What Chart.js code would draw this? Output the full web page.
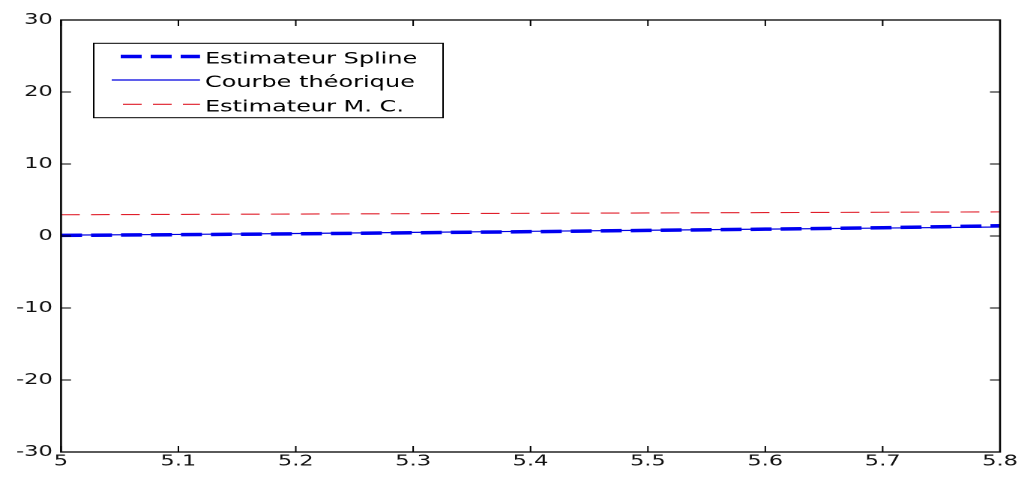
<!DOCTYPE html>
<html>
<head>
<meta charset="utf-8">
<script src="https://cdn.jsdelivr.net/npm/chart.js@4.4.1/dist/chart.umd.min.js"></script>
<style>
  html, body { margin: 0; padding: 0; background: #fff; overflow: hidden; }
  /* the reference is stretched sideways, so draw narrow and widen it */
  #wrap { width: 681px; height: 477px; transform: scaleX(1.4993); transform-origin: 0 0; }
</style>
</head>
<body>
<div id="wrap"><canvas id="chart"></canvas></div>
<script>
const xVals = [5.0, 5.1, 5.2, 5.3, 5.4, 5.5, 5.6, 5.7, 5.8];
const splineVals = [0.08, 0.18, 0.30, 0.45, 0.60, 0.78, 0.95, 1.15, 1.42];
const theoVals = [0.12, 0.22, 0.35, 0.50, 0.65, 0.80, 0.95, 1.10, 1.25];
const mcVals = [2.95, 3.00, 3.05, 3.10, 3.15, 3.20, 3.25, 3.30, 3.35];
const seriesNames = ['Estimateur Spline', 'Courbe théorique', 'Estimateur M. C.'];

const xTickVals = [5, 5.1, 5.2, 5.3, 5.4, 5.5, 5.6, 5.7, 5.8];
const xTickLabels = ['5', '5.1', '5.2', '5.3', '5.4', '5.5', '5.6', '5.7', '5.8'];
const yTickVals = [-30, -20, -10, 0, 10, 20, 30];
const yTickLabels = ['-30', '-20', '-10', '0', '10', '20', '30'];

const FONT = '"DejaVu Sans", Arial, sans-serif';
const pts = vals => xVals.map((x, i) => ({ x, y: vals[i] }));

// box, inward ticks on all four sides, then the boxed legend
const frame = {
  id: 'frame',
  afterDatasetsDraw(chart) {
    const { ctx, chartArea: a, scales } = chart;
    ctx.save();
    ctx.setLineDash([]);
    ctx.strokeStyle = '#000';
    ctx.lineWidth = 1.3;
    ctx.strokeRect(a.left, a.top, a.right - a.left, a.bottom - a.top);
    ctx.lineWidth = 1;
    ctx.beginPath();
    scales.x.ticks.forEach(t => {
      const px = scales.x.getPixelForValue(t.value);
      ctx.moveTo(px, a.bottom); ctx.lineTo(px, a.bottom - 6);
      ctx.moveTo(px, a.top); ctx.lineTo(px, a.top + 6);
    });
    scales.y.ticks.forEach(t => {
      const py = scales.y.getPixelForValue(t.value);
      ctx.moveTo(a.left, py); ctx.lineTo(a.left + 6.7, py);
      ctx.moveTo(a.right, py); ctx.lineTo(a.right - 6.7, py);
    });
    ctx.stroke();
    ctx.restore();
  },
  afterDraw(chart) {
    const ctx = chart.ctx;
    const box = { l: 62.5, r: 295.5, t: 43.3, b: 117.7 };
    const rows = [56.5, 80, 104.3];
    ctx.save();
    ctx.fillStyle = '#fff';
    ctx.fillRect(box.l, box.t, box.r - box.l, box.b - box.t);
    ctx.strokeStyle = '#000';
    ctx.lineWidth = 1;
    ctx.setLineDash([]);
    ctx.strokeRect(box.l, box.t, box.r - box.l, box.b - box.t);
    chart.data.datasets.forEach((ds, i) => {
      const y = rows[i];
      ctx.strokeStyle = ds.borderColor;
      ctx.lineWidth = ds.borderWidth;
      const dash = ds.borderDash || [];
      ctx.setLineDash(dash);
      ctx.lineDashOffset = dash.length ? dash[0] : 0;
      ctx.beginPath();
      ctx.moveTo(74.5, y);
      ctx.lineTo(133.4, y);
      ctx.stroke();
      ctx.setLineDash([]);
      ctx.fillStyle = '#000';
      ctx.font = '16px ' + FONT;
      ctx.textBaseline = 'alphabetic';
      ctx.textAlign = 'left';
      ctx.fillText(ds.label, 136.7, y + 7);
    });
    ctx.restore();
  }
};

const tickFont = { family: FONT, size: 15, lineHeight: 1 };

new Chart(document.getElementById('chart'), {
  type: 'line',
  data: {
    datasets: [
      { label: seriesNames[0], data: pts(splineVals), borderColor: '#0000f0', borderWidth: 3.5, borderDash: [14, 6] },
      { label: seriesNames[1], data: pts(theoVals), borderColor: '#0000e0', borderWidth: 1.2 },
      { label: seriesNames[2], data: pts(mcVals), borderColor: '#e01e2a', borderWidth: 1.1, borderDash: [12.5, 7.5] }
    ]
  },
  options: {
    animation: false,
    responsive: true,
    maintainAspectRatio: false,
    devicePixelRatio: 2,
    layout: { padding: { top: 20, right: 14, left: 0, bottom: 0 } },
    elements: { point: { radius: 0 }, line: { tension: 0 } },
    plugins: { legend: { display: false }, tooltip: { enabled: false } },
    scales: {
      x: {
        type: 'linear', min: 5, max: 5.8,
        grid: { display: false, drawTicks: false },
        border: { display: false },
        ticks: { font: tickFont, color: '#111', padding: 2, maxRotation: 0, autoSkip: false,
                 callback: (v, i) => xTickLabels[i] },
        afterBuildTicks: s => { s.ticks = xTickVals.map(v => ({ value: v })); },
        afterFit: s => { s.height = 25; }
      },
      y: {
        type: 'linear', min: -30, max: 30,
        grid: { display: false, drawTicks: false },
        border: { display: false },
        ticks: { font: tickFont, color: '#111', padding: 5.5, autoSkip: false,
                 callback: (v, i) => yTickLabels[i] },
        afterBuildTicks: s => { s.ticks = yTickVals.map(v => ({ value: v })); },
        afterFit: s => { s.width = 40.7; }
      }
    }
  },
  plugins: [frame]
});
</script>
</body>
</html>
